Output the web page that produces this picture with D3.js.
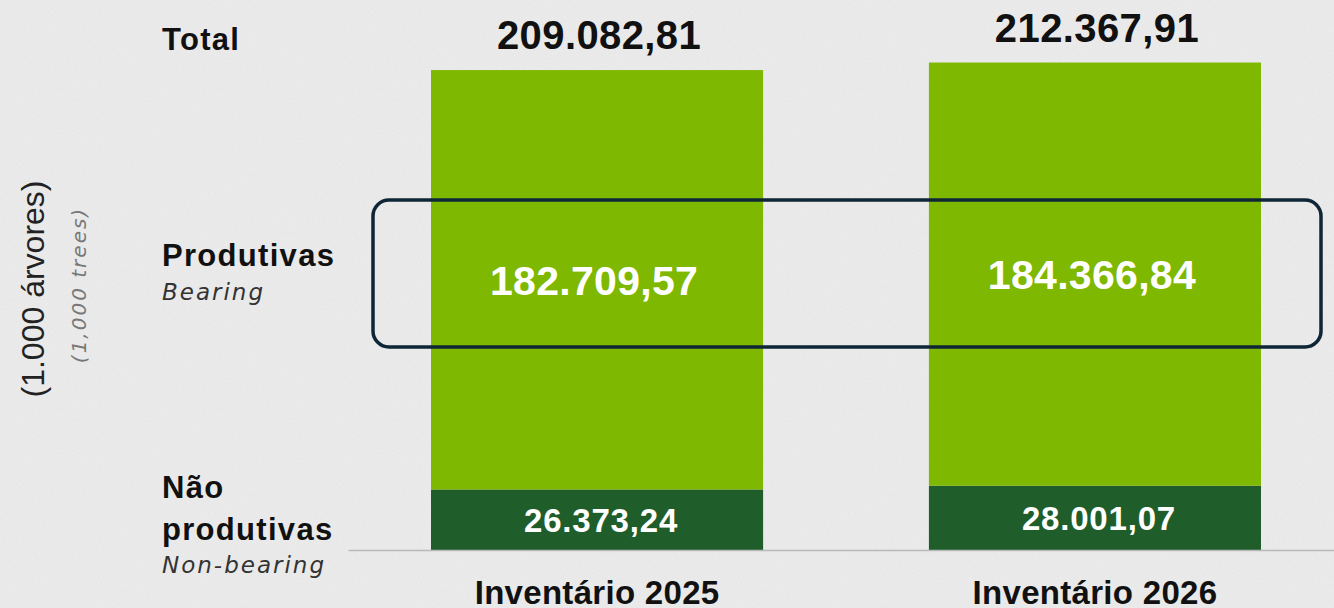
<script src="https://d3js.org/d3.v7.min.js"></script>
<style>
  body { margin: 0; background: #ebebeb; }
  svg { display: block; }
</style>
<body>
<svg width="1334" height="608"></svg>
<script>
    const categories = ["Inventário 2025", "Inventário 2026"];
    const bearing = [182709.57, 184366.84];
    const nonBearing = [26373.24, 28001.07];
    const totals = [209082.81, 212367.91];
    const labelsBearing = ["182.709,57", "184.366,84"];
    const labelsNonBearing = ["26.373,24", "28.001,07"];
    const labelsTotal = ["209.082,81", "212.367,91"];

    const svg = d3.select("svg");
    const font = "'Liberation Sans', Arial, sans-serif";
    const fancy = "'DejaVu Sans', sans-serif";

    // paper-ish background
    const defs = svg.append("defs");
    const f = defs.append("filter").attr("id", "paper").attr("x", 0).attr("y", 0).attr("width", "100%").attr("height", "100%");
    f.append("feTurbulence").attr("type", "fractalNoise").attr("baseFrequency", 0.8).attr("numOctaves", 2).attr("seed", 3).attr("result", "n");
    f.append("feColorMatrix").attr("type", "matrix")
        .attr("values", "0 0 0 0 0.45  0 0 0 0 0.45  0 0 0 0 0.45  0 0 0 0.16 0");
    svg.append("rect").attr("width", 1334).attr("height", 608).attr("fill", "#eeeeee");
    svg.append("rect").attr("width", 1334).attr("height", 608).attr("filter", "url(#paper)");

    const x = d3.scaleBand().domain(categories).range([348, 1344]).paddingInner(0.333).paddingOuter(0.1667);
    const y = d3.scaleLinear().domain([0, 220000]).range([550, 45]);

    const g = svg.append("g");

    // stacked bars
    g.selectAll(".nb").data(categories).join("rect")
        .attr("x", d => x(d)).attr("width", x.bandwidth())
        .attr("y", (d, i) => y(nonBearing[i]))
        .attr("height", (d, i) => y(0) - y(nonBearing[i]))
        .attr("fill", "#1f5e2b");
    g.selectAll(".b").data(categories).join("rect")
        .attr("x", d => x(d)).attr("width", x.bandwidth())
        .attr("y", (d, i) => y(nonBearing[i] + bearing[i]))
        .attr("height", (d, i) => y(nonBearing[i]) - y(nonBearing[i] + bearing[i]))
        .attr("fill", "#7fb800");

    // axis
    const axis = svg.append("g").attr("transform", "translate(0," + y(0) + ")")
        .call(d3.axisBottom(x).tickSize(0).tickPadding(0));
    axis.select(".domain").attr("stroke", "#b8b8b8").attr("stroke-width", 1.5);
    axis.selectAll("text").attr("dy", null).attr("y", 54)
        .attr("font-family", font).attr("font-size", 33).attr("font-weight", "bold")
        .attr("letter-spacing", 0.3).attr("fill", "#111");

    // value labels
    g.selectAll(".tl").data(categories).join("text")
        .attr("x", d => x(d) + x.bandwidth() / 2 + 2)
        .attr("y", (d, i) => y(totals[i]) - 21)
        .attr("text-anchor", "middle").attr("font-family", font).attr("font-weight", "bold")
        .attr("font-size", 40).attr("letter-spacing", 0.4).attr("fill", "#111")
        .text((d, i) => labelsTotal[i]);
    g.selectAll(".bl").data(categories).join("text")
        .attr("x", d => x(d) + x.bandwidth() / 2 - 3)
        .attr("y", (d, i) => (y(nonBearing[i]) + y(totals[i])) / 2)
        .attr("dy", "0.36em")
        .attr("text-anchor", "middle").attr("font-family", font).attr("font-weight", "bold")
        .attr("font-size", 41).attr("letter-spacing", 0.3).attr("fill", "#fff")
        .text((d, i) => labelsBearing[i]);
    g.selectAll(".nl").data(categories).join("text")
        .attr("x", d => x(d) + x.bandwidth() / 2 + 4)
        .attr("y", (d, i) => (y(0) + y(nonBearing[i])) / 2)
        .attr("dy", "0.36em")
        .attr("text-anchor", "middle").attr("font-family", font).attr("font-weight", "bold")
        .attr("font-size", 33).attr("letter-spacing", 0.8).attr("fill", "#fff")
        .text((d, i) => labelsNonBearing[i]);

    // highlight box around the bearing values
    svg.append("rect").attr("x", 373).attr("y", 200).attr("width", 948).attr("height", 147)
        .attr("rx", 16).attr("fill", "none").attr("stroke", "#0f2637").attr("stroke-width", 3.5);

    // row labels
    const left = svg.append("g").attr("font-family", font).attr("fill", "#111");
    const bold = (t, yy) => left.append("text").attr("x", 162).attr("y", yy)
        .attr("font-size", 31).attr("font-weight", "bold").attr("letter-spacing", 1.3).text(t);
    const ital = (t, yy) => left.append("text").attr("x", 162).attr("y", yy)
        .attr("font-family", fancy).attr("font-size", 23).attr("font-style", "italic")
        .attr("letter-spacing", 2).attr("fill", "#333").text(t);
    bold("Total", 50);
    bold("Produtivas", 266);
    ital("Bearing", 300);
    bold("Não", 498);
    bold("produtivas", 540);
    ital("Non-bearing", 573);

    // unit titles
    svg.append("text").attr("transform", "translate(44,289) rotate(-90)")
        .attr("text-anchor", "middle").attr("font-family", font).attr("font-size", 32).attr("fill", "#222")
        .text("(1.000 árvores)");
    svg.append("text").attr("transform", "translate(86,285) rotate(-90)")
        .attr("text-anchor", "middle").attr("font-family", fancy).attr("font-size", 20).attr("font-style", "italic")
        .attr("letter-spacing", 2).attr("fill", "#777")
        .text("(1,000 trees)");
</script>
</body>
